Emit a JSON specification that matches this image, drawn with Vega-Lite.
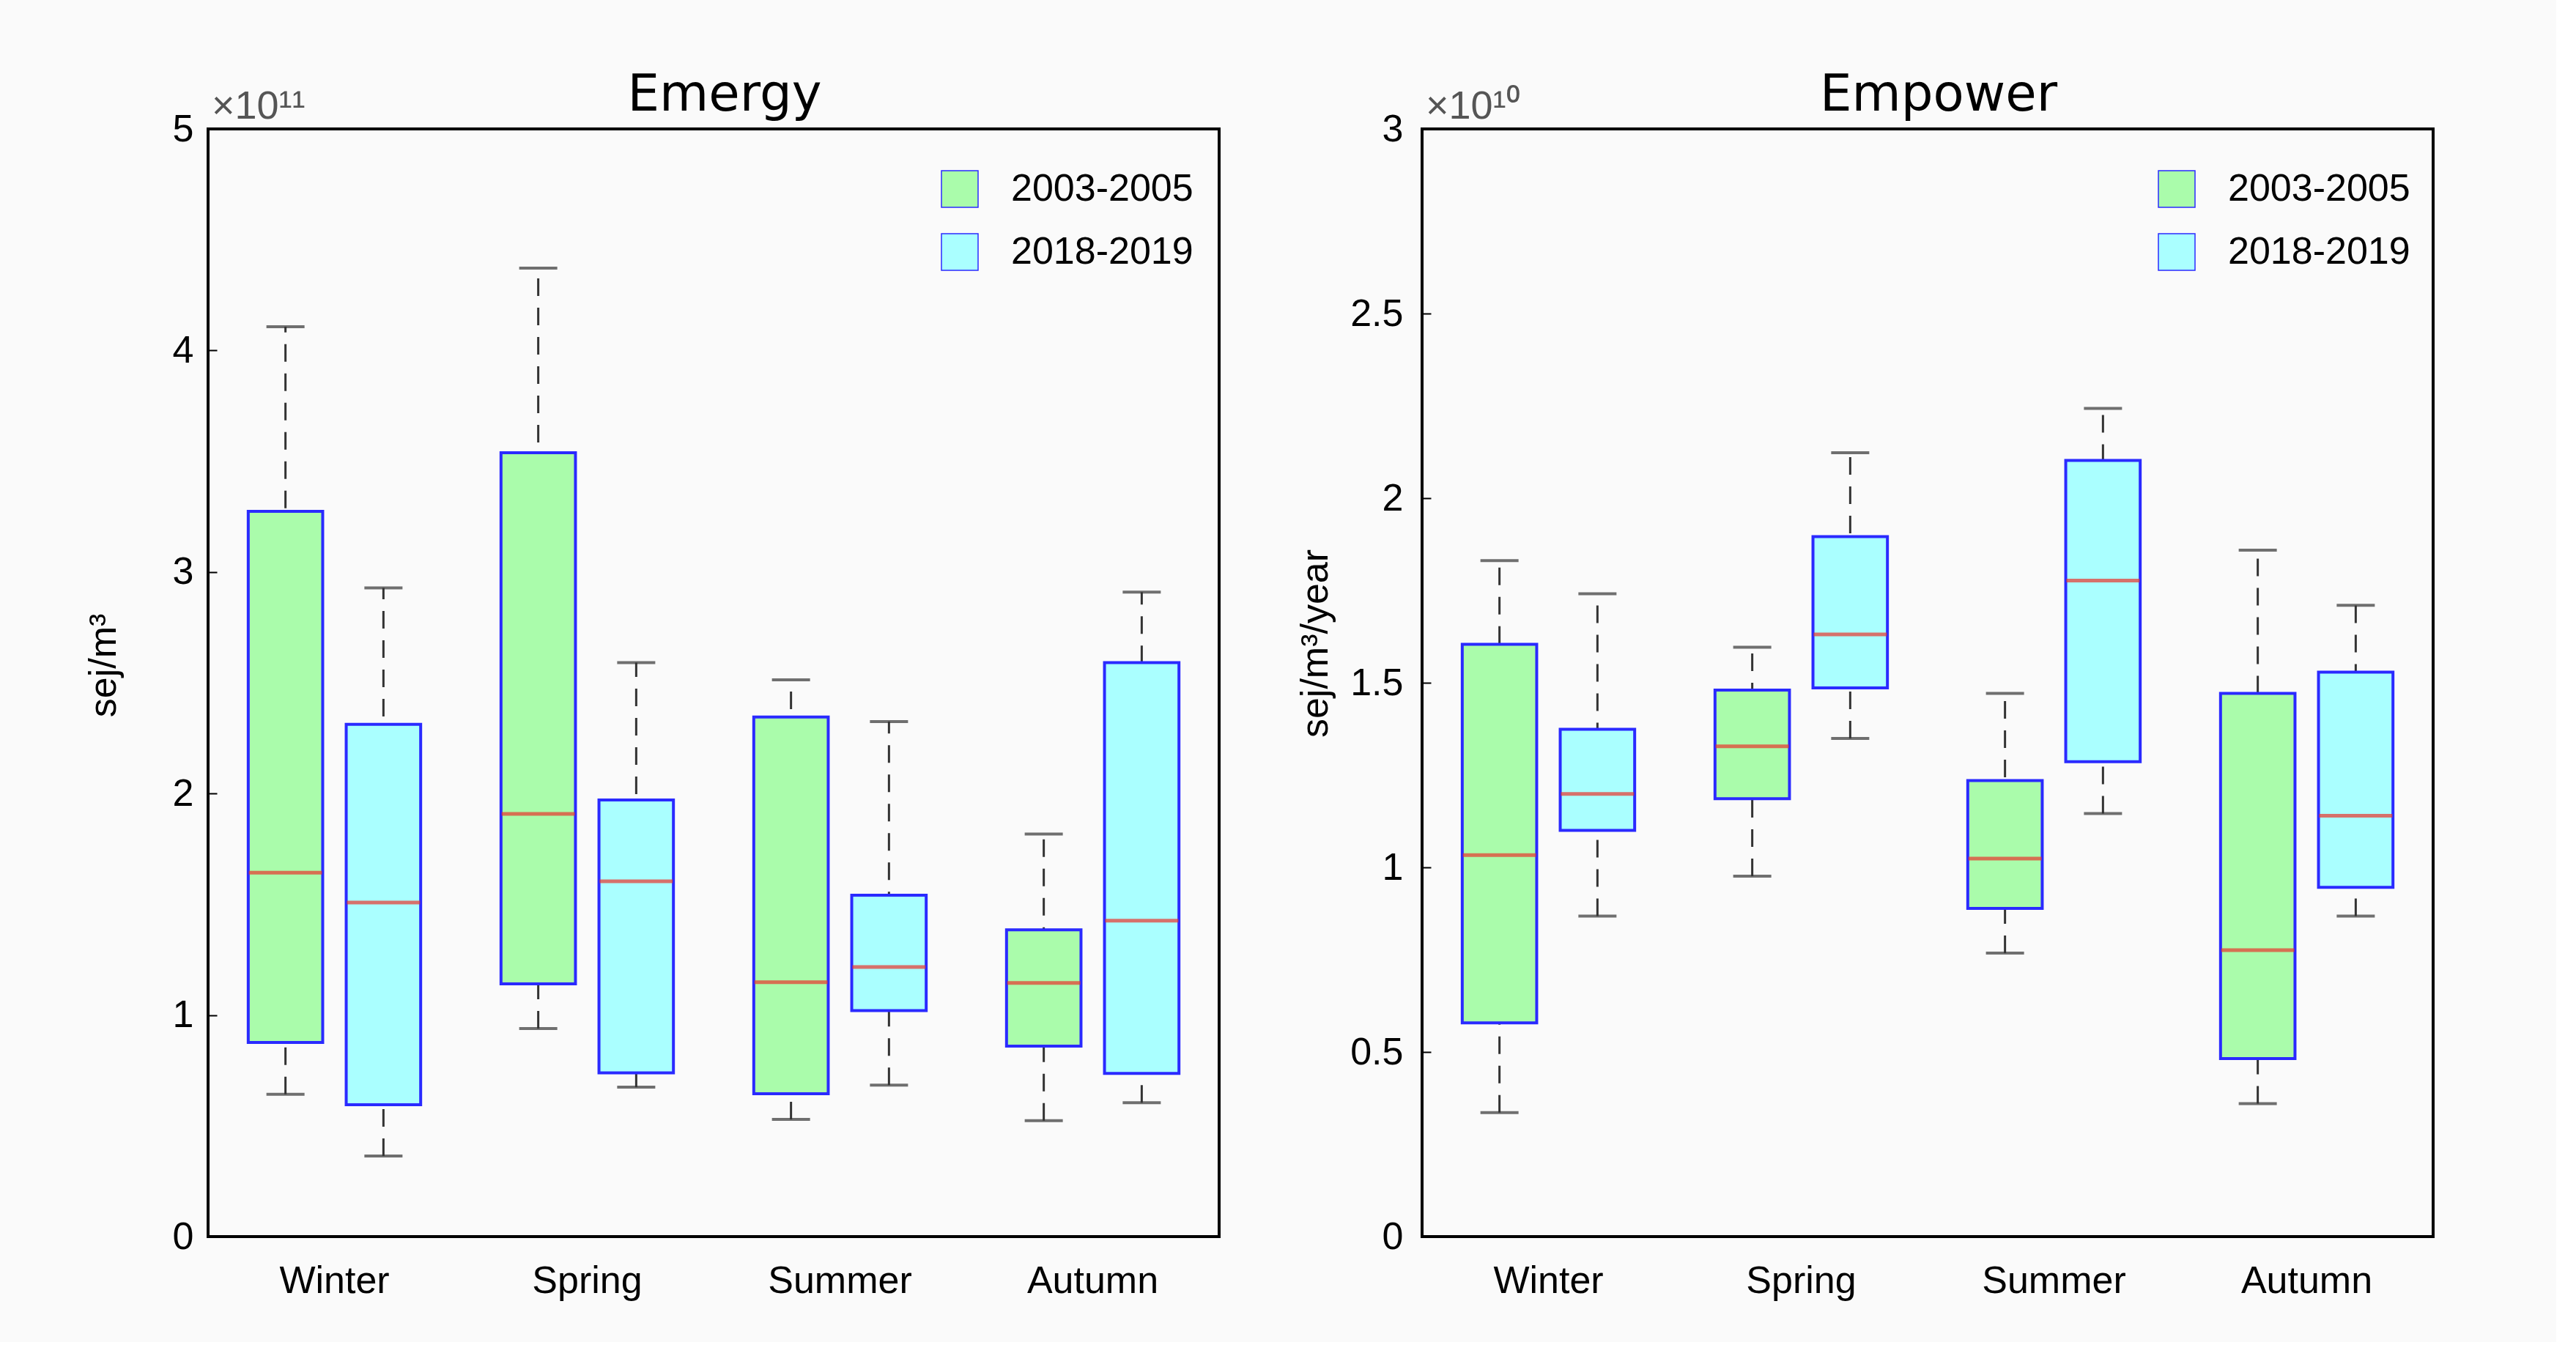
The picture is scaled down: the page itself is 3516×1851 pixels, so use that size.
{
  "$schema": "https://vega.github.io/schema/vega-lite/v6.json",
  "background": "#fafafa",
  "padding": {"left": 113, "top": 94, "right": 166, "bottom": 56},
  "datasets": {
    "emergy": [
      {"season": "Winter", "period": "2003-2005", "lower": 0.642, "q1": 0.876, "median": 1.643, "q3": 3.274, "upper": 4.107},
      {"season": "Winter", "period": "2018-2019", "lower": 0.364, "q1": 0.595, "median": 1.508, "q3": 2.312, "upper": 2.928},
      {"season": "Spring", "period": "2003-2005", "lower": 0.939, "q1": 1.141, "median": 1.908, "q3": 3.538, "upper": 4.372},
      {"season": "Spring", "period": "2018-2019", "lower": 0.675, "q1": 0.739, "median": 1.604, "q3": 1.971, "upper": 2.591},
      {"season": "Summer", "period": "2003-2005", "lower": 0.529, "q1": 0.645, "median": 1.148, "q3": 2.345, "upper": 2.513},
      {"season": "Summer", "period": "2018-2019", "lower": 0.684, "q1": 1.020, "median": 1.217, "q3": 1.541, "upper": 2.325},
      {"season": "Autumn", "period": "2003-2005", "lower": 0.523, "q1": 0.860, "median": 1.145, "q3": 1.385, "upper": 1.817},
      {"season": "Autumn", "period": "2018-2019", "lower": 0.604, "q1": 0.737, "median": 1.426, "q3": 2.591, "upper": 2.909}
    ],
    "empower": [
      {"season": "Winter", "period": "2003-2005", "lower": 0.336, "q1": 0.579, "median": 1.033, "q3": 1.604, "upper": 1.831},
      {"season": "Winter", "period": "2018-2019", "lower": 0.868, "q1": 1.100, "median": 1.199, "q3": 1.374, "upper": 1.741},
      {"season": "Spring", "period": "2003-2005", "lower": 0.976, "q1": 1.186, "median": 1.328, "q3": 1.480, "upper": 1.596},
      {"season": "Spring", "period": "2018-2019", "lower": 1.349, "q1": 1.486, "median": 1.631, "q3": 1.896, "upper": 2.123},
      {"season": "Summer", "period": "2003-2005", "lower": 0.768, "q1": 0.889, "median": 1.024, "q3": 1.235, "upper": 1.471},
      {"season": "Summer", "period": "2018-2019", "lower": 1.146, "q1": 1.286, "median": 1.777, "q3": 2.102, "upper": 2.243},
      {"season": "Autumn", "period": "2003-2005", "lower": 0.360, "q1": 0.482, "median": 0.776, "q3": 1.471, "upper": 1.859},
      {"season": "Autumn", "period": "2018-2019", "lower": 0.868, "q1": 0.946, "median": 1.140, "q3": 1.529, "upper": 1.710}
    ],
    "exp11": [{"t": "×10¹¹"}],
    "exp10": [{"t": "×10¹⁰"}]
  },
  "resolve": {"scale": {"color": "independent", "y": "independent"}, "legend": {"color": "independent"}},
  "spacing": 101,
  "hconcat": [
    {
      "width": 1380,
      "height": 1512,
      "title": "Emergy",
      "data": {"name": "emergy"},
      "encoding": {
        "x": {"field": "season", "type": "nominal", "sort": ["Winter", "Spring", "Summer", "Autumn"], "scale": {"paddingInner": 0, "paddingOuter": 0}, "axis": {"title": null, "ticks": false, "domain": false, "labelAngle": 0, "labelFontSize": 52, "labelPadding": 35, "labelColor": "black", "labelLimit": 600}},
        "xOffset": {"field": "period", "type": "nominal", "scale": {"paddingInner": 0.24, "paddingOuter": 0.41}}
      },
      "layer": [
        {
          "mark": {"type": "rule", "strokeDash": [24, 16], "strokeWidth": 3, "color": "#333"},
          "encoding": {
            "y": {"field": "lower", "type": "quantitative", "scale": {"domain": [0, 5], "nice": false}, "axis": {"title": "sej/m³", "titleY": 732, "values": [0, 1, 2, 3, 4, 5], "labelExpr": "'' + datum.value", "titleFontSize": 52, "titleFontWeight": "normal", "titleColor": "black", "titlePadding": 67, "labelFontSize": 52, "labelColor": "black", "labelPadding": 32, "tickSize": -12, "tickColor": "black", "tickWidth": 2, "domain": false, "grid": false}},
            "y2": {"field": "upper"}
          }
        },
        {
          "mark": {"type": "tick", "size": 52, "thickness": 4, "color": "#333"},
          "encoding": {"y": {"field": "upper", "type": "quantitative"}}
        },
        {
          "mark": {"type": "tick", "size": 52, "thickness": 4, "color": "#333"},
          "encoding": {"y": {"field": "lower", "type": "quantitative"}}
        },
        {
          "mark": {"type": "bar", "stroke": "#2a2aff", "strokeWidth": 4},
          "encoding": {
            "y": {"field": "q1", "type": "quantitative"},
            "y2": {"field": "q3"},
            "color": {"field": "period", "type": "nominal", "scale": {"domain": ["2003-2005", "2018-2019"], "range": ["#aafcab", "#aaffff"]},
              "legend": {"title": null, "orient": "none", "legendX": 1000, "legendY": 56, "padding": 0, "symbolType": "square", "symbolSize": 2500, "labelFontSize": 52, "labelColor": "black", "labelOffset": 44, "labelLimit": 600, "rowPadding": 30,
                "encode": {"symbols": {"update": {"stroke": {"value": "#999999"}, "strokeWidth": {"value": 2}, "strokeDash": {"value": [3, 3]}}}}}}
          }
        },
        {
          "mark": {"type": "tick", "size": 100, "thickness": 5, "color": "#e8342c"},
          "encoding": {"y": {"field": "median", "type": "quantitative"}}
        },
        {
          "data": {"name": "exp11"},
          "mark": {"type": "text", "align": "left", "baseline": "alphabetic", "fontSize": 54, "color": "#555555", "dx": 5, "dy": -14},
          "encoding": {
            "x": {"datum": "Winter", "bandPosition": 0},
            "xOffset": null,
            "y": {"datum": 5, "type": "quantitative"},
            "text": {"field": "t"}
          }
        }
      ]
    },
    {
      "width": 1380,
      "height": 1512,
      "title": "Empower",
      "data": {"name": "empower"},
      "encoding": {
        "x": {"field": "season", "type": "nominal", "sort": ["Winter", "Spring", "Summer", "Autumn"], "scale": {"paddingInner": 0, "paddingOuter": 0}, "axis": {"title": null, "ticks": false, "domain": false, "labelAngle": 0, "labelFontSize": 52, "labelPadding": 35, "labelColor": "black", "labelLimit": 600}},
        "xOffset": {"field": "period", "type": "nominal", "scale": {"paddingInner": 0.24, "paddingOuter": 0.41}}
      },
      "layer": [
        {
          "mark": {"type": "rule", "strokeDash": [24, 16], "strokeWidth": 3, "color": "#333"},
          "encoding": {
            "y": {"field": "lower", "type": "quantitative", "scale": {"domain": [0, 3], "nice": false}, "axis": {"title": "sej/m³/year", "titleY": 702, "values": [0, 0.5, 1, 1.5, 2, 2.5, 3], "labelExpr": "'' + datum.value", "titleFontSize": 52, "titleFontWeight": "normal", "titleColor": "black", "titlePadding": 20, "labelFontSize": 52, "labelColor": "black", "labelPadding": 38, "tickSize": -12, "tickColor": "black", "tickWidth": 2, "domain": false, "grid": false}},
            "y2": {"field": "upper"}
          }
        },
        {
          "mark": {"type": "tick", "size": 52, "thickness": 4, "color": "#333"},
          "encoding": {"y": {"field": "upper", "type": "quantitative"}}
        },
        {
          "mark": {"type": "tick", "size": 52, "thickness": 4, "color": "#333"},
          "encoding": {"y": {"field": "lower", "type": "quantitative"}}
        },
        {
          "mark": {"type": "bar", "stroke": "#2a2aff", "strokeWidth": 4},
          "encoding": {
            "y": {"field": "q1", "type": "quantitative"},
            "y2": {"field": "q3"},
            "color": {"field": "period", "type": "nominal", "scale": {"domain": ["2003-2005", "2018-2019"], "range": ["#aafcab", "#aaffff"]},
              "legend": {"title": null, "orient": "none", "legendX": 1004, "legendY": 56, "padding": 0, "symbolType": "square", "symbolSize": 2500, "labelFontSize": 52, "labelColor": "black", "labelOffset": 44, "labelLimit": 600, "rowPadding": 30,
                "encode": {"symbols": {"update": {"stroke": {"value": "#999999"}, "strokeWidth": {"value": 2}, "strokeDash": {"value": [3, 3]}}}}}}
          }
        },
        {
          "mark": {"type": "tick", "size": 100, "thickness": 5, "color": "#e8342c"},
          "encoding": {"y": {"field": "median", "type": "quantitative"}}
        },
        {
          "data": {"name": "exp10"},
          "mark": {"type": "text", "align": "left", "baseline": "alphabetic", "fontSize": 54, "color": "#555555", "dx": 5, "dy": -14},
          "encoding": {
            "x": {"datum": "Winter", "bandPosition": 0},
            "xOffset": null,
            "y": {"datum": 3, "type": "quantitative"},
            "text": {"field": "t"}
          }
        }
      ]
    }
  ],
  "config": {
    "font": "Liberation Sans",
    "view": {"stroke": "black", "strokeWidth": 4},
    "title": {"font": "DejaVu Sans", "fontSize": 69, "fontWeight": "normal", "color": "black", "offset": -46, "dx": 15},
    "axis": {"labelFont": "Liberation Sans", "titleFont": "Liberation Sans"},
    "legend": {"labelFont": "Liberation Sans"}
  }
}
